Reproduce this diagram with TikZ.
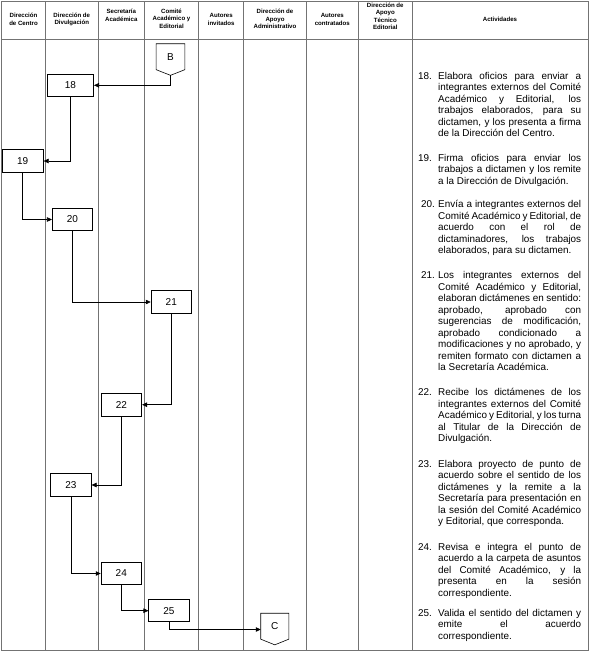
\documentclass[tikz,border=0pt]{standalone}
\usepackage{fontspec}
\setmainfont{Liberation Sans}
\usetikzlibrary{arrows.meta}
\begin{document}
\begin{tikzpicture}[x=1pt,y=-1pt,
  gridline/.style={draw=black!55, line width=0.6pt},
  hdr/.style={font=\fontsize{6.1}{7.5}\selectfont\bfseries, align=center, inner sep=0},
  stepbox/.style={draw, line width=0.6pt, minimum width=40.5pt, minimum height=22.5pt, inner sep=0, font=\fontsize{10}{12}\selectfont},
  offpage/.style={inner sep=0, minimum width=28pt, minimum height=25.5pt, font=\fontsize{10}{12}\selectfont},
  arr/.style={draw, line width=0.6pt, -{Triangle[length=5pt,width=4.5pt]}},
  act/.style={anchor=north west, text width=163pt, align=justify, inner sep=0, font=\fontsize{9.9}{11.5}\selectfont},
]
\useasboundingbox (0,0) rectangle (590,654);
% table
\draw[gridline] (1.7,1) rectangle (588.3,650.7);
\draw[gridline] (1.7,39.5) -- (588.3,39.5);
\foreach \xx in {45.3,98.3,144.3,198.7,243.7,306.3,358.3,412.3}
  \draw[gridline] (\xx,1) -- (\xx,650.7);
% headers
\node[hdr] (h1) at (23.5,19.2) {Dirección\\de Centro};
\node[hdr] (h2) at (71.8,19.2) {Dirección de\\Divulgación};
\node[hdr] (h3) at (121.3,15.2) {Secretaría\\Académica};
\node[hdr] (h4) at (171.5,18.6) {Comité\\Académico y\\Editorial};
\node[hdr] (h5) at (221.2,19.2) {Autores\\invitados};
\node[hdr] (h6) at (275,19.2) {Dirección de\\Apoyo\\Administrativo};
\node[hdr] (h7) at (332.3,19.2) {Autores\\contratados};
\node[hdr] (h8) at (385.3,16.2) {Dirección de\\Apoyo\\Técnico\\Editorial};
\node[hdr] (h9) at (500,19.3) {Actividades};
% off-page connectors
\node[offpage, minimum width=28.4pt] (B) at (170.5,56.7) {B};
\draw[line width=0.6pt] (B.north west) -- (B.north east) -- (B.south east) -- ([yshift=-5.7pt]B.south) -- (B.south west) -- cycle;
\coordinate (Bt) at ([yshift=-5.7pt]B.south);
\node[offpage, minimum width=27.7pt] (C) at (274.8,626.2) {C};
\draw[line width=0.6pt] (C.north west) -- (C.north east) -- (C.south east) -- ([yshift=-5.7pt]C.south) -- (C.south west) -- cycle;
% steps
\node[stepbox, minimum width=46.4pt] (n18) at (70.5,85.3) {18};
\node[stepbox, minimum width=41.3pt] (n19) at (22.7,161) {19};
\node[stepbox] (n20) at (72.5,219.5) {20};
\node[stepbox] (n21) at (171.3,302) {21};
\node[stepbox] (n22) at (121.5,404.7) {22};
\node[stepbox, minimum height=23.4pt] (n23) at (71,485) {23};
\node[stepbox] (n24) at (121.3,573.5) {24};
\node[stepbox, minimum height=22pt] (n25) at (169,610.7) {25};
% connectors
\draw[arr] (Bt) |- (n18);
\draw[arr] (n18) |- (n19);
\draw[arr] (n19) |- (n20);
\draw[arr] (n20) |- (n21);
\draw[arr] (n21) |- (n22);
\draw[arr] (n22) |- (n23);
\draw[arr] (n23) |- (n24);
\draw[arr] (n24) |- (n25);
\draw[arr] (n25) |- ([yshift=-3.3pt]C.west);
% activities
\newcommand{\actitem}[2]{\tolerance=10000\hyphenpenalty=10000\exhyphenpenalty=10000\hangindent=20pt\hangafter=1\noindent\makebox[20pt][l]{#1}\strut #2\par}
\node[act] (a18) at (418,71.2) {\actitem{18.}{Elabora oficios para enviar a\linebreak integrantes externos del Comité\linebreak Académico y Editorial, los\linebreak trabajos elaborados, para su\linebreak dictamen, y los presenta a firma\linebreak de la Dirección del Centro.}};
\node[act] (a19) at (418,152.9) {\actitem{19.}{Firma oficios para enviar los\linebreak trabajos a dictamen y los remite\linebreak a la Dirección de Divulgación.}};
\node[act] (a20) at (418,199.4) {\actitem{\hspace{3pt}20.}{Envía a integrantes externos del\linebreak Comité Académico y Editorial, de\linebreak acuerdo con el rol de\linebreak dictaminadores, los trabajos\linebreak elaborados, para su dictamen.}};
\node[act] (a21) at (418,270.5) {\actitem{\hspace{3pt}21.}{Los integrantes externos del\linebreak Comité Académico y Editorial,\linebreak elaboran dictámenes en sentido:\linebreak aprobado, aprobado con\linebreak sugerencias de modificación,\linebreak aprobado condicionado a\linebreak modificaciones y no aprobado, y\linebreak remiten formato con dictamen a\linebreak la Secretaría Académica.}};
\node[act] (a22) at (418,387.4) {\actitem{22.}{Recibe los dictámenes de los\linebreak integrantes externos del Comité\linebreak Académico y Editorial, y los turna\linebreak al Titular de la Dirección de\linebreak Divulgación.}};
\node[act] (a23) at (418,458.9) {\actitem{23.}{Elabora proyecto de punto de\linebreak acuerdo sobre el sentido de los\linebreak dictámenes y la remite a la\linebreak Secretaría para presentación en\linebreak la sesión del Comité Académico\linebreak y Editorial, que corresponda.}};
\node[act] (a24) at (418,541.9) {\actitem{24.}{Revisa e integra el punto de\linebreak acuerdo a la carpeta de asuntos\linebreak del Comité Académico, y la\linebreak presenta en la sesión\linebreak correspondiente.}};
\node[act] (a25) at (418,607.9) {\actitem{25.}{Valida el sentido del dictamen y\linebreak emite el acuerdo\linebreak correspondiente.}};
\end{tikzpicture}
\end{document}
